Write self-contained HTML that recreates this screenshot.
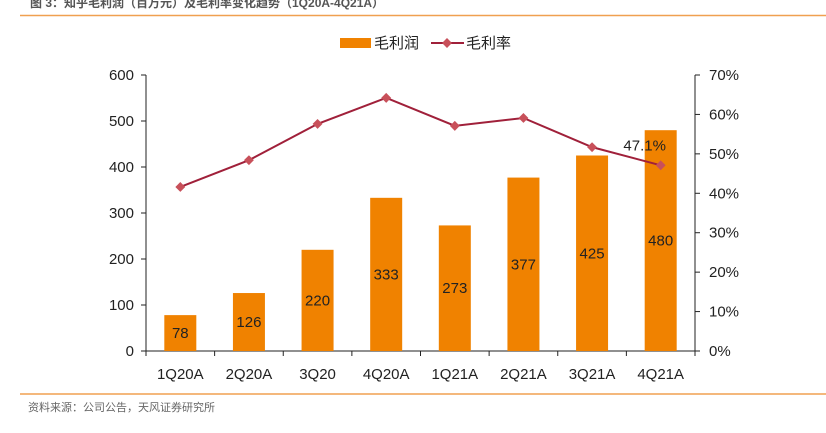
<!DOCTYPE html>
<html><head><meta charset="utf-8"><style>
body{margin:0;background:#fff;width:826px;height:428px;overflow:hidden;font-family:"Liberation Sans","Noto Sans CJK SC",sans-serif}
</style></head><body>
<svg width="826" height="428" xmlns="http://www.w3.org/2000/svg" font-family="Liberation Sans, Noto Sans CJK SC, sans-serif">
<text x="30" y="7" font-size="12" font-weight="bold" fill="#555">图 3：知乎毛利润（百万元）及毛利率变化趋势（1Q20A-4Q21A）</text>
<line x1="20" y1="15.5" x2="826" y2="15.5" stroke="#f0a050" stroke-width="1.5"/>
<g>
<rect x="340" y="38" width="31" height="10" fill="#f08200"/>
<text x="374" y="48" font-size="15" fill="#222">毛利润</text>
<line x1="431" y1="43" x2="464" y2="43" stroke="#a0203a" stroke-width="2"/>
<rect x="443.5" y="39.5" width="7" height="7" fill="#c8505a" transform="rotate(45 447 43)"/>
<text x="466" y="48" font-size="15" fill="#222">毛利率</text>
</g>
<g id="plot"></g>
<line x1="20" y1="394" x2="826" y2="394" stroke="#f0a050" stroke-width="1.5"/>
<text x="28" y="411" font-size="11" fill="#666">资料来源：公司公告，天风证券研究所</text>
</svg>
<script>
const categories=["1Q20A","2Q20A","3Q20","4Q20A","1Q21A","2Q21A","3Q21A","4Q21A"];
const profit=[78,126,220,333,273,377,425,480];
const margin=[41.6,48.4,57.6,64.2,57.1,59.1,51.7,47.1];
const leftTicks=[0,100,200,300,400,500,600];
const rightTicks=[0,10,20,30,40,50,60,70];
const NS="http://www.w3.org/2000/svg",g=document.getElementById('plot');
const x0=146,x1=695,y0=351,yTop=75;
const yL=v=>y0-(v/600)*(y0-yTop), yR=v=>y0-(v/70)*(y0-yTop);
const step=(x1-x0)/categories.length, xc=i=>x0+step*(i+0.5);
function mk(t,a,txt){const e=document.createElementNS(NS,t);for(const k in a)e.setAttribute(k,a[k]);if(txt!==undefined)e.textContent=txt;g.appendChild(e);return e;}
let e;
e=mk('line',{x1:x0,y1:yTop,x2:x0,y2:y0,stroke:'#222'});


e=mk('line',{x1:x1,y1:yTop,x2:x1,y2:y0,stroke:'#222'});


e=mk('line',{x1:x0,y1:y0,x2:x1,y2:y0,stroke:'#222'});


leftTicks.forEach(v=>{const y=yL(v);
e=mk('line',{x1:x0-5,y1:y,x2:x0,y2:y,stroke:'#222'});


e=mk('text',{x:x0-12,y:y+5,'font-size':15,'text-anchor':'end',fill:'#222'},v);

});
rightTicks.forEach(v=>{const y=yR(v);
e=mk('line',{x1:x1,y1:y,x2:x1+5,y2:y,stroke:'#222'});


e=mk('text',{x:x1+14,y:y+5,'font-size':15,fill:'#222'},v+'%');

});
for(let i=0;i<=categories.length;i++){
e=mk('line',{x1:x0+step*i,y1:y0,x2:x0+step*i,y2:y0+5,stroke:'#222'});

}
categories.forEach((c,i)=>{
e=mk('text',{x:xc(i),y:379,'font-size':15,'text-anchor':'middle',fill:'#222'},c);


const y=yL(profit[i]);
e=mk('rect',{x:xc(i)-16,y:y,width:32,height:y0-y,fill:'#f08200'});


const ly=i==0?y0-(y0-y)/2+5:(y+y0)/2+5;
e=mk('text',{x:xc(i),y:ly,'font-size':15,'text-anchor':'middle',fill:'#222'},profit[i]);

});
e=mk('polyline',{points:margin.map((v,i)=>xc(i)+','+yR(v)).join(' '),fill:'none',stroke:'#a0203a','stroke-width':2});


margin.forEach((v,i)=>{const x=xc(i),y=yR(v);
e=mk('rect',{x:x-3.5,y:y-3.5,width:7,height:7,fill:'#c8505a',transform:`rotate(45 ${x} ${y})`});

});
const li=margin.length-1;
e=mk('text',{x:xc(li)-16,y:yR(margin[li])-15,'font-size':15,'text-anchor':'middle',fill:'#222'},margin[li].toFixed(1)+'%');


</script>
</body></html>
